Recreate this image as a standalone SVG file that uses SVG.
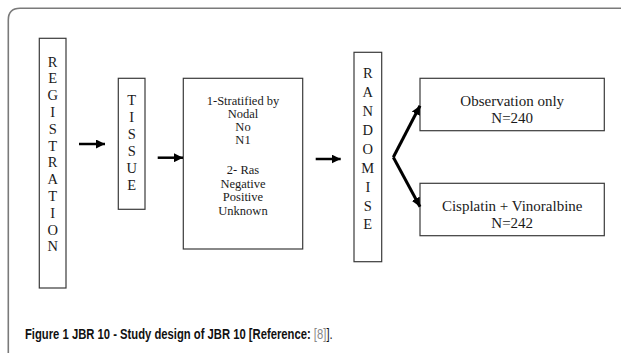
<svg xmlns="http://www.w3.org/2000/svg" width="621" height="356" viewBox="0 0 621 356">
<style>
.box{fill:#fff;stroke:#3a3a3a;stroke-width:1.2}
.t{font-family:"Liberation Serif","DejaVu Serif",serif;fill:#1a1a1a;text-anchor:middle}
.v{font-size:14.5px}
.m{font-size:12.5px}
.o{font-size:15px}
.arr{fill:none;stroke:#000;stroke-width:2.5}
.br{fill:none;stroke:#000;stroke-width:3}
.cap{font-family:"Liberation Sans","Open Sans",sans-serif;font-size:14px;fill:#111}
.b{font-weight:bold}
</style>
<defs>
<marker id="ah" markerUnits="userSpaceOnUse" markerWidth="10" markerHeight="9" refX="9" refY="4.5" orient="auto">
<path d="M0,0 L9,4.5 L0,9 z" fill="#000"/>
</marker>
</defs>
<rect width="621" height="356" fill="#fff"/>
<path d="M8.3,353 L8.3,20 Q8.3,8.3 20,8.3 L621,8.3" fill="none" stroke="#7a7a7a" stroke-width="1.6"/>
<g id="registration">
<rect class="box" x="39.3" y="38.3" width="26.7" height="249.7"/>
<text class="t v"><tspan x="52.7" y="66.6">R</tspan><tspan x="52.7" dy="16.8">E</tspan><tspan x="52.7" dy="16.8">G</tspan><tspan x="52.7" dy="16.8">I</tspan><tspan x="52.7" dy="16.8">S</tspan><tspan x="52.7" dy="16.8">T</tspan><tspan x="52.7" dy="16.8">R</tspan><tspan x="52.7" dy="16.8">A</tspan><tspan x="52.7" dy="16.8">T</tspan><tspan x="52.7" dy="16.8">I</tspan><tspan x="52.7" dy="16.8">O</tspan><tspan x="52.7" dy="16.8">N</tspan></text>
</g>
<g id="tissue">
<rect class="box" x="118.3" y="78.3" width="26.7" height="131"/>
<text class="t v"><tspan x="131.7" y="104.9">T</tspan><tspan x="131.7" dy="17">I</tspan><tspan x="131.7" dy="17">S</tspan><tspan x="131.7" dy="17">S</tspan><tspan x="131.7" dy="17">U</tspan><tspan x="131.7" dy="17">E</tspan></text>
</g>
<g id="stratified">
<rect class="box" x="183.3" y="78.3" width="119.4" height="170.7"/>
<text class="t m"><tspan x="243" y="105.3">1-Stratified by</tspan><tspan x="243" y="117.8">Nodal</tspan><tspan x="243" y="131">No</tspan><tspan x="243" y="144.3">N1</tspan><tspan x="243" y="174.3">2- Ras</tspan><tspan x="243" y="187.6">Negative</tspan><tspan x="243" y="201">Positive</tspan><tspan x="243" y="215">Unknown</tspan></text>
</g>
<g id="randomise">
<rect class="box" x="354" y="52.3" width="27.7" height="209.4"/>
<text class="t v"><tspan x="367.8" y="78.2">R</tspan><tspan x="367.8" dy="18.9">A</tspan><tspan x="367.8" dy="18.9">N</tspan><tspan x="367.8" dy="18.9">D</tspan><tspan x="367.8" dy="18.9">O</tspan><tspan x="367.8" dy="18.9">M</tspan><tspan x="367.8" dy="18.9">I</tspan><tspan x="367.8" dy="18.9">S</tspan><tspan x="367.8" dy="18.9">E</tspan></text>
</g>
<g id="observation">
<rect class="box" x="420" y="78.3" width="184.3" height="52.4"/>
<text class="t o"><tspan x="512.2" y="105.8">Observation only</tspan><tspan x="512.2" y="123.4">N=240</tspan></text>
</g>
<g id="cisplatin">
<rect class="box" x="420" y="183.3" width="184.3" height="52.4"/>
<text class="t o"><tspan x="512.2" y="211">Cisplatin + Vinoralbine</tspan><tspan x="512.2" y="227.6">N=242</tspan></text>
</g>
<g id="connectors">
<line class="arr" x1="79" y1="144" x2="105" y2="144" marker-end="url(#ah)"/>
<line class="arr" x1="157.7" y1="157.7" x2="183" y2="157.7" marker-end="url(#ah)"/>
<line class="arr" x1="315.7" y1="159" x2="340.7" y2="159" marker-end="url(#ah)"/>
<path class="br" d="M393.3,157.3 L420,105.7" marker-end="url(#ah)"/>
<path class="br" d="M393.3,157.3 L420,206.7" marker-end="url(#ah)"/>
</g>
<g id="caption">
<text class="cap" transform="translate(25,338.5) scale(0.805,1)" x="0" y="0"><tspan class="b">Figure 1 JBR 10 - Study design of JBR 10 [Reference:</tspan> <tspan fill="#888">[8]</tspan>].</text>
</g>
</svg>
